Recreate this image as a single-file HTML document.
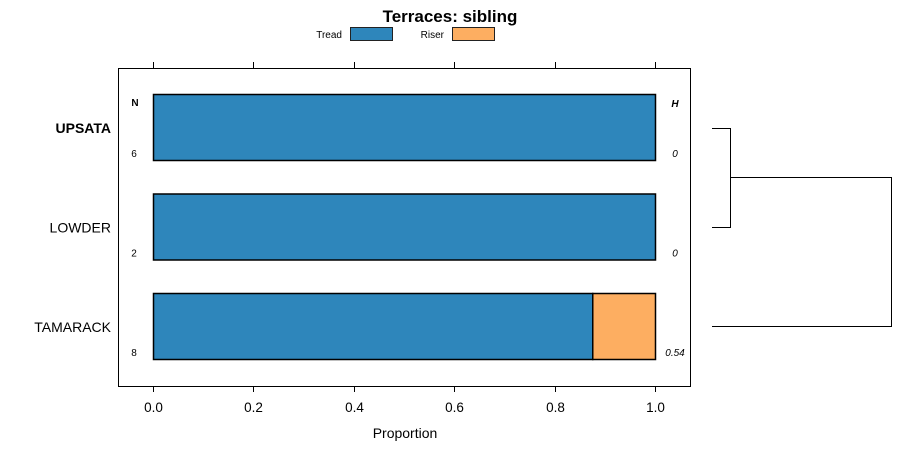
<!DOCTYPE html>
<html><head><meta charset="utf-8"><style>
body{margin:0;background:#fff}
svg text{font-family:"Liberation Sans",sans-serif}
</style></head><body>
<svg width="900" height="460" xmlns="http://www.w3.org/2000/svg">
<text x="450" y="22" font-size="17" font-weight="bold" text-anchor="middle">Terraces: sibling</text>
<g>
<text x="342" y="38" font-size="10" text-anchor="end">Tread</text>
<rect x="350.5" y="27.5" width="42" height="13" fill="#2e86bb" stroke="#222"/>
<text x="444" y="38" font-size="10" text-anchor="end">Riser</text>
<rect x="452.5" y="27.5" width="42" height="13" fill="#fdae61" stroke="#222"/>
</g>
<rect x="118.5" y="68.5" width="572" height="318" fill="none" stroke="#000"/>
<g id="axes"></g>
<g id="bars"></g>
<g id="labels"></g>
<text x="135" y="106" font-size="10" font-weight="bold" text-anchor="middle">N</text>
<text x="675" y="107" font-size="10" font-weight="bold" font-style="italic" text-anchor="middle">H</text>
<text x="405" y="438" font-size="14" text-anchor="middle">Proportion</text>
<g fill="none" stroke="#000">
<path d="M712 128.5H730.5V227.5H712"/>
<path d="M730.5 177.5H891.5V326.5H712"/>
</g>
</svg>
<script>
const categories=["UPSATA","LOWDER","TAMARACK"];
const tread=[1,1,0.875];
const riser=[0,0,0.125];
const counts=["6","2","8"];
const hvals=["0","0","0.54"];
const ticks=[0,0.2,0.4,0.6,0.8,1.0];
const tickLabels=["0.0","0.2","0.4","0.6","0.8","1.0"];
const NS="http://www.w3.org/2000/svg";
const xs=v=>153+v*502;
const yc=i=>128+i*99.5;
function mk(t,a,p){const e=document.createElementNS(NS,t);for(const k in a)e.setAttribute(k,a[k]);p.appendChild(e);return e;}
const ax=document.getElementById('axes'),bg=document.getElementById('bars'),lg=document.getElementById('labels');
ticks.forEach((t,i)=>{
 const x=Math.round(xs(t))+0.5;
 const a=mk('line',{x1:x,x2:x,y1:62,y2:68,stroke:'#000'},ax);
 
 
 const b=mk('line',{x1:x,x2:x,y1:386,y2:392,stroke:'#000'},ax);
 
 
 const l=mk('text',{x:x,y:412,'font-size':13.5,'text-anchor':'middle'},ax);l.textContent=tickLabels[i];
 
 
});
categories.forEach((c,i)=>{
 const y=yc(i)-33.5;
 const r1=mk('rect',{x:xs(0)+0.5,y:y,width:xs(tread[i])-xs(0),height:66,fill:'#2e86bb',stroke:'#000','stroke-width':1.5},bg);
 
 
 if(riser[i]>0){
  const r2=mk('rect',{x:xs(tread[i])+0.5,y:y,width:xs(tread[i]+riser[i])-xs(tread[i]),height:66,fill:'#fdae61',stroke:'#000','stroke-width':1.5},bg);
  
  
 }
 const t=mk('text',{x:111,y:yc(i)+5,'font-size':14,'text-anchor':'end','font-weight':i==0?'bold':'normal'},lg);t.textContent=c;
 
 
 const n=mk('text',{x:134,y:yc(i)+29,'font-size':10,'text-anchor':'middle'},lg);n.textContent=counts[i];
 
 
 const h=mk('text',{x:675,y:yc(i)+29,'font-size':10,'font-style':'italic','text-anchor':'middle'},lg);h.textContent=hvals[i];
 
 
});
</script>
</body></html>
